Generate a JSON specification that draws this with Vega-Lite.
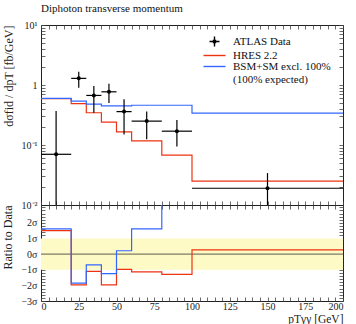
{
  "$schema": "https://vega.github.io/schema/vega-lite/v6.json",
  "padding": {"left": 1, "right": 8, "top": 2, "bottom": 0},
  "background": "white",
  "bounds": "flush",
  "config": {
    "font": "Liberation Serif",
    "view": {"stroke": "#222", "strokeWidth": 1},
    "axis": {"labelFont": "Liberation Serif", "titleFont": "Liberation Serif", "labelFontSize": 10, "titleFontSize": 12, "titleFontWeight": "normal", "labelColor": "#222", "titleColor": "#222", "grid": false, "domain": false, "ticks": true, "tickColor": "#444", "tickSize": -4, "tickWidth": 0.8, "labelPadding": 8}
  },
  "datasets": {
    "bins": [
      {"xlo": 0, "xhi": 20, "xc": 10, "y": 0.07, "ylo": 0.005, "yhi": 0.37},
      {"xlo": 20, "xhi": 30, "xc": 25, "y": 1.29, "ylo": 0.9, "yhi": 1.67},
      {"xlo": 30, "xhi": 40, "xc": 35, "y": 0.67, "ylo": 0.345, "yhi": 0.96},
      {"xlo": 40, "xhi": 50, "xc": 45, "y": 0.77, "ylo": 0.5, "yhi": 1.05},
      {"xlo": 50, "xhi": 60, "xc": 55, "y": 0.36, "ylo": 0.15, "yhi": 0.58},
      {"xlo": 60, "xhi": 80, "xc": 70, "y": 0.25, "ylo": 0.125, "yhi": 0.36},
      {"xlo": 80, "xhi": 100, "xc": 90, "y": 0.17, "ylo": 0.094, "yhi": 0.26},
      {"xlo": 100, "xhi": 200, "xc": 150, "y": 0.019, "ylo": 0.005, "yhi": 0.034}
    ],
    "mc": [
      {"x": 0, "v": 0.59, "series": "HRES 2.2"},
      {"x": 20, "v": 0.49, "series": "HRES 2.2"},
      {"x": 30, "v": 0.345, "series": "HRES 2.2"},
      {"x": 40, "v": 0.24, "series": "HRES 2.2"},
      {"x": 50, "v": 0.166, "series": "HRES 2.2"},
      {"x": 60, "v": 0.117, "series": "HRES 2.2"},
      {"x": 80, "v": 0.068, "series": "HRES 2.2"},
      {"x": 100, "v": 0.025, "series": "HRES 2.2"},
      {"x": 200, "v": 0.025, "series": "HRES 2.2"},
      {"x": 0, "v": 0.6, "series": "BSM"},
      {"x": 20, "v": 0.54, "series": "BSM"},
      {"x": 30, "v": 0.48, "series": "BSM"},
      {"x": 40, "v": 0.45, "series": "BSM"},
      {"x": 50, "v": 0.45, "series": "BSM"},
      {"x": 60, "v": 0.46, "series": "BSM"},
      {"x": 80, "v": 0.46, "series": "BSM"},
      {"x": 100, "v": 0.34, "series": "BSM"},
      {"x": 200, "v": 0.34, "series": "BSM"}
    ],
    "ratio": [
      {"x": 0, "r": 1.51, "series": "HRES 2.2"},
      {"x": 20, "r": -1.97, "series": "HRES 2.2"},
      {"x": 30, "r": -1.1, "series": "HRES 2.2"},
      {"x": 40, "r": -1.97, "series": "HRES 2.2"},
      {"x": 50, "r": -0.97, "series": "HRES 2.2"},
      {"x": 60, "r": -1.14, "series": "HRES 2.2"},
      {"x": 80, "r": -1.3, "series": "HRES 2.2"},
      {"x": 100, "r": 0.28, "series": "HRES 2.2"},
      {"x": 200, "r": 0.28, "series": "HRES 2.2"},
      {"x": 0, "r": 1.62, "series": "BSM"},
      {"x": 20, "r": -1.86, "series": "BSM"},
      {"x": 30, "r": -0.68, "series": "BSM"},
      {"x": 40, "r": -1.25, "series": "BSM"},
      {"x": 50, "r": 0.22, "series": "BSM"},
      {"x": 60, "r": 1.62, "series": "BSM"},
      {"x": 80, "r": 6, "series": "BSM"},
      {"x": 100, "r": 6, "series": "BSM"},
      {"x": 200, "r": 6, "series": "BSM"}
    ],
    "band": [{"lo": -1, "hi": 1, "xmin": 0, "xmax": 200}]
  },
  "spacing": 0,
  "resolve": {"scale": {"x": "independent", "y": "independent", "color": "independent"}, "legend": {"color": "independent"}},
  "vconcat": [
    {
      "width": 302,
      "height": 180,
      "title": {"text": "Diphoton transverse momentum", "anchor": "start", "frame": "group", "fontSize": 11, "fontWeight": "normal", "font": "Liberation Serif", "offset": 6, "color": "#111"},
      "resolve": {"axis": {"x": "independent", "y": "independent"}},
      "layer": [
        {
          "data": {"name": "mc"},
          "mark": {"type": "line", "interpolate": "step-after", "strokeWidth": 1.2, "clip": true},
          "encoding": {
            "x": {"field": "x", "type": "quantitative", "scale": {"domain": [0, 200], "nice": false},
              "axis": {"orient": "bottom", "labels": false, "title": null, "values": [0,5,10,15,20,25,30,35,40,45,50,55,60,65,70,75,80,85,90,95,100,105,110,115,120,125,130,135,140,145,150,155,160,165,170,175,180,185,190,195,200],
                "encode": {"ticks": {"update": {"y2": {"signal": "datum.value % 25 == 0 ? -8 : -4"}}}}}},
            "y": {"field": "v", "type": "quantitative", "scale": {"type": "log", "domain": [0.01, 10], "nice": false},
              "axis": {"orient": "left", "title": "dσfid / dpT [fb/GeV]", "titleAnchor": "end", "titlePadding": 6,
                "values": [0.01,0.02,0.03,0.04,0.05,0.06,0.07,0.08,0.09,0.1,0.2,0.3,0.4,0.5,0.6,0.7,0.8,0.9,1,2,3,4,5,6,7,8,9,10],
                "labelExpr": "datum.value == 10 ? '10¹' : datum.value == 1 ? '1' : datum.value == 0.1 ? '10⁻¹' : datum.value == 0.01 ? '10⁻²' : ''",
                "encode": {"ticks": {"update": {"x2": {"signal": "abs(log(datum.value)/LN10 - round(log(datum.value)/LN10)) < 0.001 ? 8 : 4"}}}}}},
            "color": {"field": "series", "type": "nominal",
              "scale": {"domain": ["ATLAS Data", "HRES 2.2", "BSM"], "range": ["#000000", "#EE3311", "#3366FF"]},
              "legend": {"orient": "none", "legendX": 168, "legendY": 11, "title": null, "padding": 0, "symbolSize": 25, "symbolStrokeWidth": 1.4, "labelOffset": 13, "labelFontSize": 11, "labelFont": "Liberation Serif", "labelColor": "#111", "rowPadding": -4,
                "labelExpr": "datum.label == 'BSM' ? ['\u00a0\u00a0\u00a0\u00a0\u00a0BSM+SM excl. 100%', '(100% expected)'] : datum.label",
                "encode": {"symbols": {"update": {
                  "shape": {"signal": "datum.value == 'ATLAS Data' ? 'M-2,0H2M0,-2V2M-0.4,-0.4H0.4V0.4H-0.4Z' : 'M-4.4,0H4.4'"},
                  "fill": {"value": "transparent"},
                  "stroke": {"signal": "datum.value == 'ATLAS Data' ? '#000000' : datum.value == 'HRES 2.2' ? '#EE3311' : '#3366FF'"}}}}}}
          }
        },
        {
          "data": {"name": "bins"},
          "mark": {"type": "rule", "strokeWidth": 1.2, "clip": true},
          "encoding": {
            "x": {"field": "xlo", "type": "quantitative", "axis": null},
            "x2": {"field": "xhi"},
            "y": {"field": "y", "type": "quantitative", "axis": null},
            "color": {"datum": "ATLAS Data"}
          }
        },
        {
          "data": {"name": "bins"},
          "mark": {"type": "rule", "strokeWidth": 1.2, "clip": true},
          "encoding": {
            "x": {"field": "xc", "type": "quantitative",
              "axis": {"orient": "top", "labels": false, "title": null, "values": [0,5,10,15,20,25,30,35,40,45,50,55,60,65,70,75,80,85,90,95,100,105,110,115,120,125,130,135,140,145,150,155,160,165,170,175,180,185,190,195,200],
                "encode": {"ticks": {"update": {"y2": {"signal": "datum.value % 25 == 0 ? 8 : 4"}}}}}},
            "y": {"field": "ylo", "type": "quantitative",
              "axis": {"orient": "right", "labels": false, "title": null,
                "values": [0.01,0.02,0.03,0.04,0.05,0.06,0.07,0.08,0.09,0.1,0.2,0.3,0.4,0.5,0.6,0.7,0.8,0.9,1,2,3,4,5,6,7,8,9,10],
                "encode": {"ticks": {"update": {"x2": {"signal": "abs(log(datum.value)/LN10 - round(log(datum.value)/LN10)) < 0.001 ? -8 : -4"}}}}}},
            "y2": {"field": "yhi"},
            "color": {"datum": "ATLAS Data"}
          }
        },
        {
          "data": {"name": "bins"},
          "mark": {"type": "point", "filled": true, "size": 16, "opacity": 1},
          "encoding": {
            "x": {"field": "xc", "type": "quantitative", "axis": null},
            "y": {"field": "y", "type": "quantitative", "axis": null},
            "color": {"datum": "ATLAS Data"}
          }
        }
      ]
    },
    {
      "width": 302,
      "height": 96,
      "resolve": {"axis": {"x": "independent", "y": "independent"}},
      "layer": [
        {
          "data": {"name": "band"},
          "mark": {"type": "rect", "color": "#fdfac6"},
          "encoding": {
            "x": {"field": "xmin", "type": "quantitative",
              "axis": {"orient": "top", "labels": false, "title": null, "values": [0,5,10,15,20,25,30,35,40,45,50,55,60,65,70,75,80,85,90,95,100,105,110,115,120,125,130,135,140,145,150,155,160,165,170,175,180,185,190,195,200],
                "encode": {"ticks": {"update": {"y2": {"signal": "datum.value % 25 == 0 ? 8 : 4"}}}}}},
            "x2": {"field": "xmax"},
            "y": {"field": "lo", "type": "quantitative",
              "axis": {"orient": "right", "labels": false, "title": null,
                "values": [-3,-2.8,-2.6,-2.4,-2.2,-2,-1.8,-1.6,-1.4,-1.2,-1,-0.8,-0.6,-0.4,-0.2,0,0.2,0.4,0.6,0.8,1,1.2,1.4,1.6,1.8,2,2.2,2.4,2.6,2.8,3],
                "encode": {"ticks": {"update": {"x2": {"signal": "abs(datum.value - round(datum.value)) < 0.01 ? -8 : -4"}}}}}},
            "y2": {"field": "hi"}
          }
        },
        {
          "data": {"name": "band"},
          "mark": {"type": "rule", "color": "#7d7b62", "strokeWidth": 1.2},
          "encoding": {
            "x": {"field": "xmin", "type": "quantitative", "axis": null},
            "x2": {"field": "xmax"},
            "y": {"datum": 0, "type": "quantitative", "axis": null}
          }
        },
        {
          "data": {"name": "ratio"},
          "mark": {"type": "line", "interpolate": "step-after", "strokeWidth": 1.2, "clip": true},
          "encoding": {
            "x": {"field": "x", "type": "quantitative", "scale": {"domain": [0, 200], "nice": false},
              "axis": {"orient": "bottom", "title": "pTγγ [GeV]", "titleAnchor": "end", "titlePadding": 2, "titleFontSize": 11.5,
                "values": [0,5,10,15,20,25,30,35,40,45,50,55,60,65,70,75,80,85,90,95,100,105,110,115,120,125,130,135,140,145,150,155,160,165,170,175,180,185,190,195,200],
                "labelExpr": "datum.value % 25 == 0 ? datum.label : ''", "labelPadding": 4,
                "encode": {"ticks": {"update": {"y2": {"signal": "datum.value % 25 == 0 ? -8 : -4"}}}}}},
            "y": {"field": "r", "type": "quantitative", "scale": {"domain": [-3, 3.15], "nice": false, "zero": false},
              "axis": {"orient": "left", "title": "Ratio to Data", "titleAnchor": "end", "titlePadding": 6,
                "values": [-3,-2.8,-2.6,-2.4,-2.2,-2,-1.8,-1.6,-1.4,-1.2,-1,-0.8,-0.6,-0.4,-0.2,0,0.2,0.4,0.6,0.8,1,1.2,1.4,1.6,1.8,2,2.2,2.4,2.6,2.8,3],
                "labelExpr": "abs(datum.value - round(datum.value)) < 0.01 && datum.value < 2.5 ? (datum.value < -0.5 ? '−' + abs(round(datum.value)) : '' + round(datum.value)) + 'σ' : ''",
                "encode": {"ticks": {"update": {"x2": {"signal": "abs(datum.value - round(datum.value)) < 0.01 ? 8 : 4"}}}}}},
            "color": {"field": "series", "type": "nominal",
              "scale": {"domain": ["HRES 2.2", "BSM"], "range": ["#EE3311", "#3366FF"]}, "legend": null}
          }
        }
      ]
    }
  ]
}
